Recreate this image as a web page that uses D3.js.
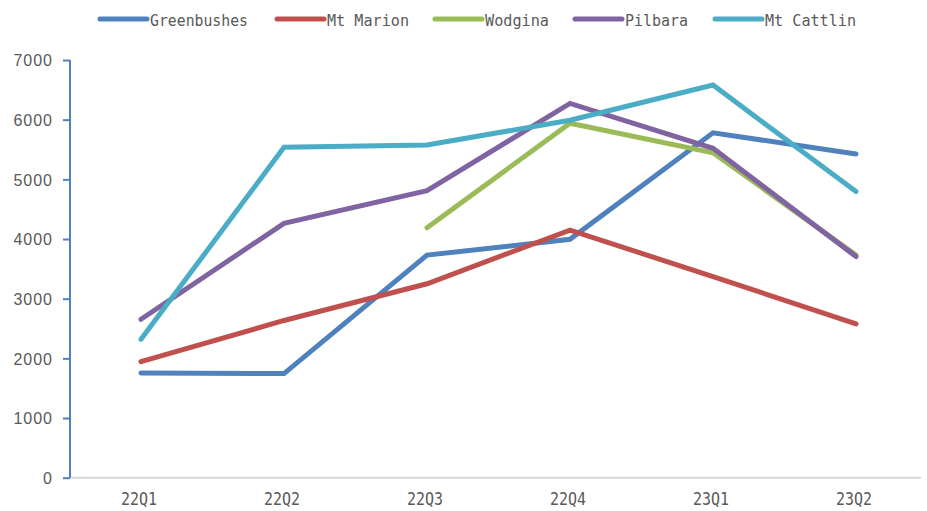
<!DOCTYPE html>
<html>
<head>
<meta charset="utf-8">
<script src="https://cdn.jsdelivr.net/npm/d3@7"></script>
<style>
  html, body { margin: 0; padding: 0; background: #fff; }
  svg { display: block; }
</style>
</head>
<body>
<svg id="chart" width="927" height="511"></svg>
<script>
// Quarterly series
const quarters = ["22Q1", "22Q2", "22Q3", "22Q4", "23Q1", "23Q2"];
const seriesNames = ["Greenbushes", "Mt Marion", "Wodgina", "Pilbara", "Mt Cattlin"];
const greenbushes = [1755, 1745, 3730, 3995, 5780, 5425];
const mtMarion    = [1945, 2635, 3250, 4150, 3370, 2578];
const wodgina     = [null, null, 4190, 5940, 5445, 3730];
const pilbara     = [2655, 4263, 4810, 6272, 5520, 3705];
const mtCattlin   = [2320, 5537, 5575, 5990, 6580, 4795];
const yTicks = [0, 1000, 2000, 3000, 4000, 5000, 6000, 7000];
const colors = ["#4F81BD", "#C0504D", "#9BBB59", "#8064A2", "#4BACC6"];

const seriesValues = [greenbushes, mtMarion, wodgina, pilbara, mtCattlin];

const svg = d3.select("#chart");

const x = d3.scalePoint().domain(quarters).range([69.5, 927.5]).padding(0.5);
const y = d3.scaleLinear().domain([0, 7000]).range([477.7, 60]);

// Horizontal baseline
svg.append("line")
  .attr("x1", 70).attr("x2", 921)
  .attr("y1", y(0)).attr("y2", y(0))
  .attr("stroke", "#d9d9d9").attr("stroke-width", 2);

// Y axis
const yAxis = d3.axisLeft(y).tickValues(yTicks).tickSize(7).tickPadding(10).tickFormat(d3.format("d"));
const gy = svg.append("g").attr("transform", "translate(70,0)").call(yAxis);
gy.select(".domain").attr("stroke", "#4F81BD").attr("stroke-width", 2)
  .attr("d", `M0,${y(7000)}V${y(0)}`);
gy.selectAll(".tick line").attr("stroke", "#4F81BD").attr("stroke-width", 2);
gy.selectAll(".tick text")
  .attr("fill", "#595959")
  .attr("dy", "0.36em")
  .style("font-family", "'Liberation Sans', Arial, sans-serif")
  .style("font-size", "16px")
  .style("letter-spacing", "1px");

// X labels
const gx = svg.append("g");
gx.selectAll("text").data(quarters).enter().append("text")
  .attr("x", d => x(d) - 2)
  .attr("y", 505)
  .attr("text-anchor", "middle")
  .attr("fill", "#595959")
  .style("font-family", "'DejaVu Sans Mono', monospace")
  .style("font-size", "18px")
  .attr("textLength", 36)
  .attr("lengthAdjust", "spacingAndGlyphs")
  .text(d => d);

// Lines
const line = d3.line()
  .defined(d => d.v !== null)
  .x(d => x(d.q))
  .y(d => y(d.v));

seriesNames.forEach((name, i) => {
  const pts = quarters.map((q, j) => ({ q, v: seriesValues[i][j] }));
  svg.append("path")
    .datum(pts)
    .attr("fill", "none")
    .attr("stroke", colors[i])
    .attr("stroke-width", 5)
    .attr("stroke-linejoin", "miter")
    .attr("stroke-linecap", "round")
    .attr("d", line);
});

// Legend
const legendX = [100, 277, 435, 575, 715];
const legendW = [98, 82, 64, 63, 91];
const lg = svg.append("g");
seriesNames.forEach((name, i) => {
  lg.append("line")
    .attr("x1", legendX[i]).attr("x2", legendX[i] + 47)
    .attr("y1", 19).attr("y2", 19)
    .attr("stroke", colors[i]).attr("stroke-width", 5)
    .attr("stroke-linecap", "round");
  lg.append("text")
    .attr("x", legendX[i] + 50)
    .attr("y", 26)
    .attr("fill", "#595959")
    .style("font-family", "'DejaVu Sans Mono', monospace")
    .style("font-size", "16.5px")
    .attr("textLength", legendW[i])
    .attr("lengthAdjust", "spacingAndGlyphs")
    .text(name);
});
</script>
</body>
</html>
